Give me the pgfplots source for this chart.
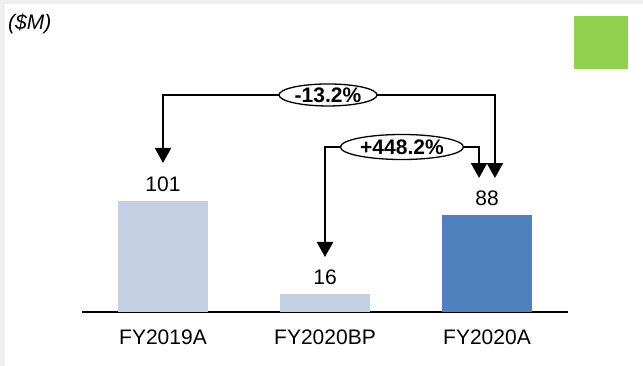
\documentclass[border=0pt]{standalone}
\usepackage{pgfplots}
\pgfplotsset{compat=1.18}
\usepackage{fontspec}
\setmainfont{Liberation Sans}
\usetikzlibrary{arrows.meta,shapes.geometric}
\definecolor{lightbar}{HTML}{C3CFE2}
\definecolor{darkbar}{HTML}{4F81BD}
\definecolor{greensq}{HTML}{92D050}
\definecolor{framegray}{HTML}{EFEFEF}
\begin{document}
\begin{tikzpicture}
\useasboundingbox (0,0) rectangle (643bp,366bp);
\fill[framegray] (0,0) rectangle (643bp,366bp);
\fill[white] (5bp,0) rectangle (643bp,362bp);
\fill[greensq] (574bp,297bp) rectangle (628bp,350bp);
\node[anchor=west,inner sep=0pt,font=\fontsize{21bp}{24bp}\selectfont\itshape] at (8bp,342bp) {(\$M)};
\begin{axis}[
  at={(82bp,54bp)}, anchor=south west,
  scale only axis, width=486bp, height=308bp,
  xmin=-0.5, xmax=2.5, ymin=0, ymax=280,
  axis x line=bottom, axis y line=none,
  x axis line style={-, line width=1.8bp},
  xtick={0,1,2}, xticklabels={FY2019A,FY2020BP,FY2020A},
  xtick style={draw=none}, ytick=\empty,
  xticklabel style={font=\fontsize{21bp}{24bp}\selectfont, inner sep=0pt, yshift=-13.5bp},
  /pgf/number format/assume math mode=true,
  clip=false,
  ybar, bar width=90bp, bar shift=0pt,
  nodes near coords,
  every node near coord/.append style={font=\fontsize{21bp}{24bp}\selectfont, inner sep=0pt, anchor=south, yshift=9bp, black},
]
\addplot[fill=lightbar, draw=none] coordinates {(0,101)};
\addplot[fill=lightbar, draw=none] coordinates {(1,16)};
\addplot[fill=darkbar, draw=none] coordinates {(2,88)};
% annotation arrows
\draw[line width=2.2bp, -{Triangle[width=16bp,length=15bp]}] (axis cs:2.049,197.3) -- (axis cs:0,197.3) -- (axis cs:0,135.5);
\draw[line width=2.2bp, -{Triangle[width=16bp,length=15bp]}] (axis cs:0,197.3) -- (axis cs:2.049,197.3) -- (axis cs:2.049,121.8);
\draw[line width=2.2bp, -{Triangle[width=16bp,length=15bp]}] (axis cs:1.951,150) -- (axis cs:1,150) -- (axis cs:1,50);
\draw[line width=2.2bp, -{Triangle[width=16bp,length=15bp]}] (axis cs:1,150) -- (axis cs:1.951,150) -- (axis cs:1.951,121.8);
\node[ellipse, draw, line width=1.3bp, fill=white, inner sep=0pt, minimum width=98bp, minimum height=22bp, font=\fontsize{21bp}{24bp}\selectfont\bfseries] at (axis cs:1.0185,197.3) {-13.2\%};
\node[ellipse, draw, line width=1.3bp, fill=white, inner sep=0pt, minimum width=123bp, minimum height=25bp, font=\fontsize{21bp}{24bp}\selectfont\bfseries] at (axis cs:1.475,150) {+448.2\%};
\end{axis}
\end{tikzpicture}
\end{document}
